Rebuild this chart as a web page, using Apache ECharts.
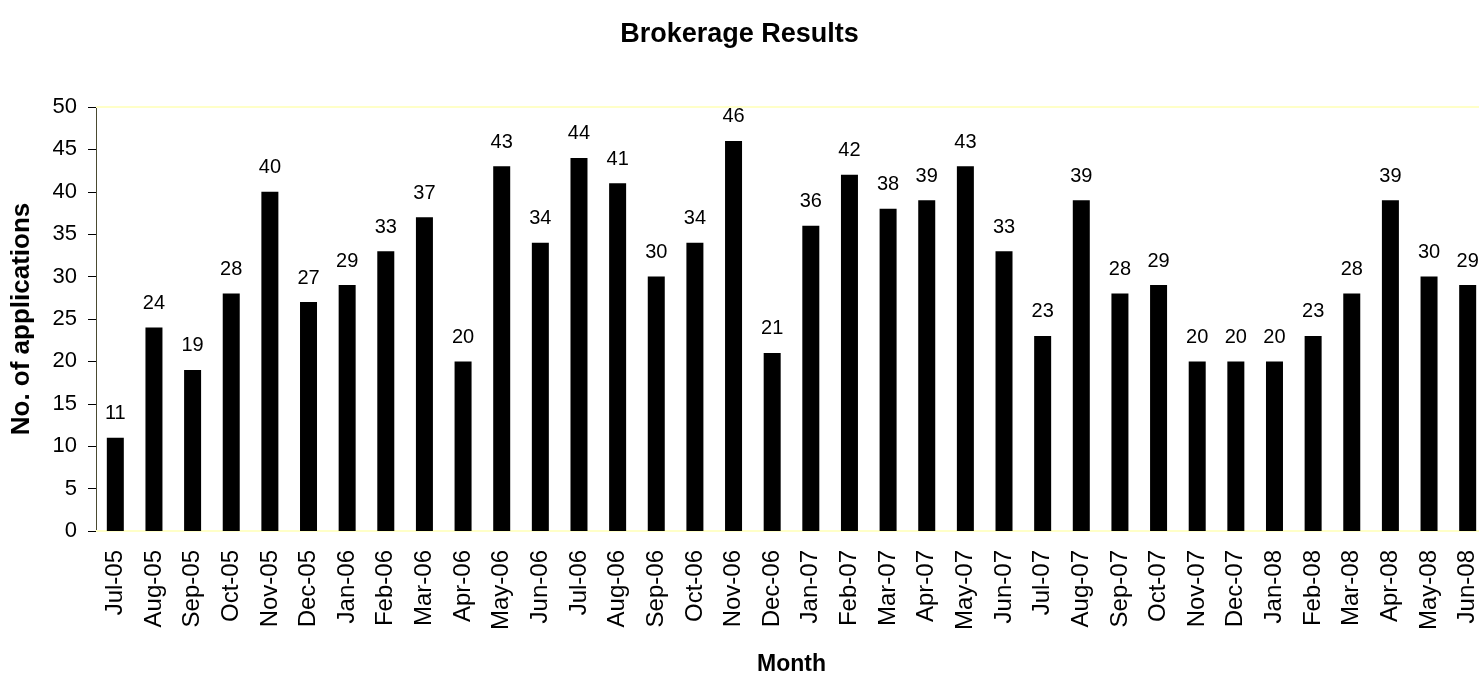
<!DOCTYPE html>
<html>
<head>
<meta charset="utf-8">
<script src="https://cdn.jsdelivr.net/npm/echarts@6/dist/echarts.min.js"></script>
<style>html,body{margin:0;padding:0;background:#fff}#c{width:1479px;height:680px}</style>
</head>
<body>
<div id="c"></div>
<script>
const months = ['Jul-05','Aug-05','Sep-05','Oct-05','Nov-05','Dec-05','Jan-06','Feb-06','Mar-06','Apr-06','May-06','Jun-06','Jul-06','Aug-06','Sep-06','Oct-06','Nov-06','Dec-06','Jan-07','Feb-07','Mar-07','Apr-07','May-07','Jun-07','Jul-07','Aug-07','Sep-07','Oct-07','Nov-07','Dec-07','Jan-08','Feb-08','Mar-08','Apr-08','May-08','Jun-08'];
const applications = [11,24,19,28,40,27,29,33,37,20,43,34,44,41,30,34,46,21,36,42,38,39,43,33,23,39,28,29,20,20,20,23,28,39,30,29];
const yTicks = {min: 0, max: 50, interval: 5};

const chart = echarts.init(document.getElementById('c'), null, {renderer: 'canvas'});
const font = 'Arial, "Liberation Sans", sans-serif';
chart.setOption({
  animation: false,
  backgroundColor: '#ffffff',
  textStyle: {fontFamily: font, color: '#000'},
  title: {
    text: 'Brokerage Results', left: 'center', top: 16,
    textStyle: {fontFamily: font, fontWeight: 'bold', fontSize: 27, color: '#000'}
  },
  grid: {left: 96, top: 107, bottom: 149, right: -8, containLabel: false, outerBoundsMode: 'none'},
  xAxis: {
    type: 'category', data: months,
    name: 'Month', nameLocation: 'middle', nameGap: 122,
    nameTextStyle: {fontFamily: font, fontWeight: 'bold', fontSize: 23, color: '#000'},
    axisLine: {show: true, lineStyle: {color: '#ffffc8', width: 2}},
    axisTick: {show: false},
    axisLabel: {rotate: 90, interval: 0, fontSize: 24, margin: 19, color: '#000', fontFamily: font}
  },
  yAxis: {
    type: 'value', min: yTicks.min, max: yTicks.max, interval: yTicks.interval,
    name: 'No. of applications', nameLocation: 'middle', nameGap: 61,
    nameTextStyle: {fontFamily: font, fontWeight: 'bold', fontSize: 26, color: '#000'},
    axisLine: {show: true, lineStyle: {color: '#4a4a30', width: 1}},
    axisTick: {show: true, inside: false, length: 8, lineStyle: {color: '#000'}},
    axisLabel: {fontSize: 22, margin: 19, color: '#000', fontFamily: font},
    splitLine: {show: false}
  },
  series: [{
    type: 'bar', data: applications, barWidth: 17,
    itemStyle: {color: '#000'},
    label: {show: true, position: 'top', distance: 14, fontSize: 20, color: '#000', fontFamily: font},
    markLine: {
      silent: true, symbol: 'none', label: {show: false},
      lineStyle: {color: '#ffffc8', width: 2, type: 'solid'},
      data: [{yAxis: yTicks.max}]
    }
  }]
});
</script>
</body>
</html>
